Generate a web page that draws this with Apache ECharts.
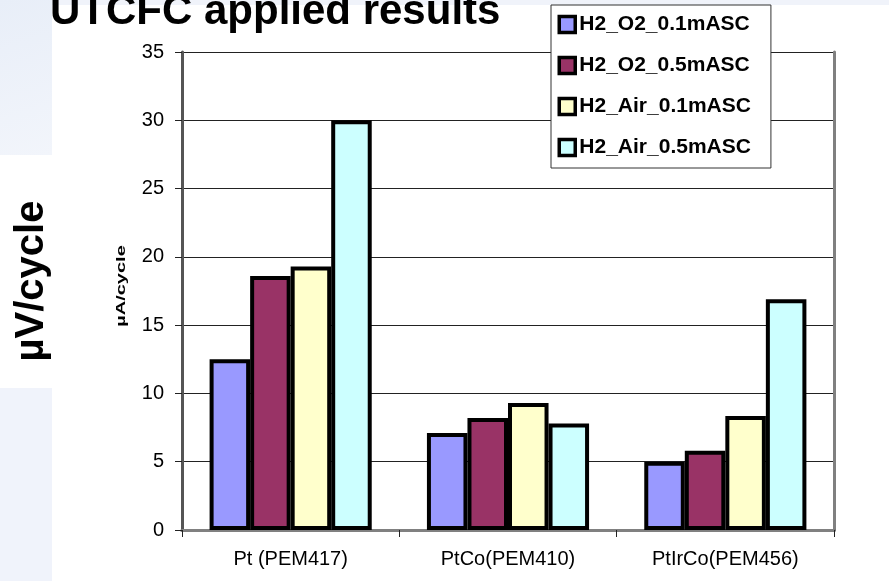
<!DOCTYPE html>
<html>
<head>
<meta charset="utf-8">
<script src="https://cdn.jsdelivr.net/npm/echarts@6/dist/echarts.min.js"></script>
<style>html,body{margin:0;padding:0;background:#fff}#c{width:889px;height:581px}</style>
</head>
<body>
<div id="c"></div>
<script>
var categories = ['Pt (PEM417)', 'PtCo(PEM410)', 'PtIrCo(PEM456)'];
var seriesNames = ['H2_O2_0.1mASC', 'H2_O2_0.5mASC', 'H2_Air_0.1mASC', 'H2_Air_0.5mASC'];
var h2O2_01 = [12.5, 7.1, 5.0];
var h2O2_05 = [18.6, 8.2, 5.8];
var h2Air_01 = [19.3, 9.3, 8.35];
var h2Air_05 = [30.0, 7.8, 16.9];
var seriesValues = [h2O2_01, h2O2_05, h2Air_01, h2Air_05];
var colors = ['#9999FF', '#993366', '#FFFFCC', '#CCFFFF'];
var yMin = 0, yMax = 35, yStep = 5;
var titleText = 'UTCFC applied results';
var bigAxisTitle = 'µV/cycle';
var smallAxisTitle = 'µA/cycle';

var FONT = '"Liberation Sans", Arial, sans-serif';
var chart = echarts.init(document.getElementById('c'), null, {renderer: 'canvas'});

var series = seriesNames.map(function (n, i) {
  return {
    name: n,
    type: 'bar',
    data: seriesValues[i],
    barGap: '0%',
    barCategoryGap: '25.4%',
    itemStyle: {color: colors[i], borderColor: '#000', borderWidth: 4},
    emphasis: {disabled: true}
  };
});

var legendRich = {
  t: {fontFamily: FONT, fontSize: 21, fontWeight: 'bold', color: '#000', lineHeight: 21}
};
colors.forEach(function (c, i) {
  legendRich['b' + i] = {backgroundColor: c, borderColor: '#000', borderWidth: 3.5, width: 12.5, height: 12.5, lineHeight: 21};
});

chart.setOption({
  animation: false,
  backgroundColor: '#ffffff',
  textStyle: {fontFamily: FONT},
  grid: {left: 182, right: 55, top: 52, bottom: 51, containLabel: false},
  legend: {
    data: seriesNames,
    orient: 'vertical',
    left: 551,
    top: 5,
    padding: [9, 20, 10, 4],
    itemGap: 20,
    itemWidth: 0,
    itemHeight: 0,
    icon: 'rect',
    backgroundColor: '#ffffff',
    borderColor: '#333',
    borderWidth: 1,
    borderRadius: 0,
    formatter: function (name) {
      return '{b' + seriesNames.indexOf(name) + '|}{t|\u00a0' + name + '}';
    },
    textStyle: {fontFamily: FONT, fontSize: 21, fontWeight: 'bold', color: '#000', lineHeight: 21, rich: legendRich},
    selectedMode: false
  },
  xAxis: [{
    type: 'category',
    data: categories,
    position: 'bottom',
    axisLine: {lineStyle: {color: '#444', width: 3}},
    axisTick: {show: true, length: 7, lineStyle: {color: '#222', width: 1}},
    axisLabel: {color: '#000', fontSize: 20, fontFamily: FONT, margin: 19},
    splitLine: {show: false}
  }, {
    type: 'category',
    data: categories,
    position: 'top',
    axisLine: {lineStyle: {color: '#808080', width: 3}},
    axisTick: {show: false},
    axisLabel: {show: false}
  }],
  yAxis: [{
    type: 'value',
    min: yMin, max: yMax, interval: yStep,
    position: 'left',
    axisLine: {show: true, lineStyle: {color: '#555', width: 3}},
    axisTick: {show: true, length: 7, lineStyle: {color: '#222', width: 1}},
    axisLabel: {color: '#000', fontSize: 20, fontFamily: FONT, margin: 18},
    splitLine: {show: true, lineStyle: {color: '#222', width: 1}}
  }, {
    type: 'value',
    min: yMin, max: yMax, interval: yStep,
    position: 'right',
    axisLine: {show: true, lineStyle: {color: '#808080', width: 3}},
    axisTick: {show: false},
    axisLabel: {show: false},
    splitLine: {show: false}
  }],
  graphic: [
    {type: 'rect', z: -100, shape: {x: 0, y: 0, width: 889, height: 5}, style: {fill: '#F0F3FA'}, silent: true},
    {type: 'rect', z: -100, shape: {x: 0, y: 0, width: 52, height: 155},
      style: {fill: new echarts.graphic.LinearGradient(0, 0, 1, 1, [{offset: 0, color: '#E8EEF8'}, {offset: 1, color: '#F2F5FB'}])}, silent: true},
    {type: 'rect', z: -100, shape: {x: 0, y: 388, width: 52, height: 193}, style: {fill: '#F0F3FB'}, silent: true},
    {type: 'text', z: 10, x: 50, y: 12,
      style: {text: titleText, font: 'bold 42px ' + FONT, fill: '#000', textAlign: 'left', textVerticalAlign: 'middle', verticalAlign: 'middle'}},
    {type: 'text', z: 10, x: 32, y: 281, rotation: Math.PI / 2,
      style: {text: bigAxisTitle, font: 'bold 40px ' + FONT, fill: '#000', textAlign: 'center', textVerticalAlign: 'middle', verticalAlign: 'middle'}},
    {type: 'text', z: 10, x: 122, y: 286, rotation: Math.PI / 2, scaleX: 1.6, scaleY: 1,
      style: {text: smallAxisTitle, font: 'bold 12.5px ' + FONT, fill: '#000', textAlign: 'center', textVerticalAlign: 'middle', verticalAlign: 'middle'}}
  ],
  series: series
});
</script>
</body>
</html>
